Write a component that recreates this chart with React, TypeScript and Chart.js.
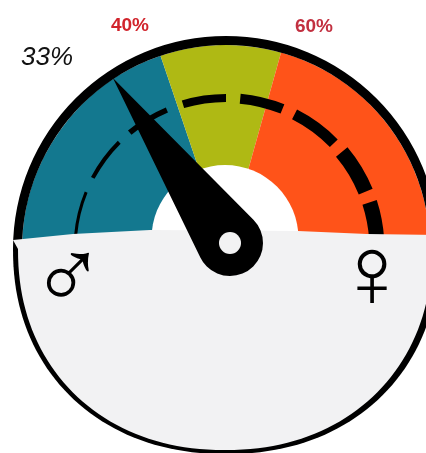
import React, { useEffect, useRef } from "react";
import { Chart, registerables } from "chart.js";

Chart.register(...registerables);

// Gauge scale: 0 at the left of the dial, 100 at the right, 200 all the way round.
const segmentLabels = ["Male", "Balanced", "Female", "Base"];
const segmentValues = [39.6, 19.1, 41.3, 100];
const segmentColors = ["#13788f", "#afb914", "#ff5319", "#f2f2f3"];
const tickLabels = ["40%", "60%"];
const needleLabel = "33%";
const needlePosition = 31.4;
const dashFrom = [3, 15.6, 28, 40.8, 53, 65, 77.8, 90];
const dashTo = [12.3, 25, 37.2, 50, 62.2, 75.3, 87.6, 98];
const dashWidths = [3, 4, 5.5, 8, 10, 11, 15, 15];
const genderSymbols = ["♂", "♀"];
const baseEdge: [number, number][] = [
  [-213, -9], [-153, -15], [-76, -19], [72, -18], [141, -15], [213, -14],
];

const gaugeAngle = (v: number) => Math.PI + (v / 100) * Math.PI;

// lower half of the dial: slightly squashed and squarish, traced right to left
const traceBowl = (ctx: CanvasRenderingContext2D, x0: number, y0: number, a: number, b: number) => {
  for (let i = 0; i <= 90; i++) {
    const t = (i / 90) * Math.PI;
    const c = Math.cos(t), s = Math.sin(t);
    const x = x0 + a * Math.sign(c) * Math.pow(Math.abs(c), 2 / 2.15);
    const y = y0 + b * Math.pow(s, 2 / 2.15);
    ctx.lineTo(x, y);
  }
};

const dialPlugin = {
  id: "dial",
  afterDatasetsDraw(chart: any) {
    const arc = chart.getDatasetMeta(0).data[0];
    const cx = arc.x, cy = arc.y, R = arc.outerRadius;
    const ctx = chart.ctx as CanvasRenderingContext2D;
    ctx.save();

    // dashed band, getting heavier to the right
    dashFrom.forEach((from, i) => {
      ctx.beginPath();
      ctx.arc(cx, cy, R - 62, gaugeAngle(from), gaugeAngle(dashTo[i]));
      ctx.lineWidth = dashWidths[i];
      ctx.strokeStyle = "#000";
      ctx.lineCap = "butt";
      ctx.stroke();
    });

    // white hub hole
    ctx.beginPath();
    ctx.arc(cx - 1, cy - 10.5, 73.5, 0, Math.PI * 2);
    ctx.fillStyle = "#ffffff";
    ctx.fill();

    // lower half: clear, then black rim
    ctx.fillStyle = "#ffffff";
    ctx.fillRect(cx - R - 2, cy, 2 * R + 4, R + 4);
    ctx.beginPath();
    ctx.moveTo(cx + R, cy);
    traceBowl(ctx, cx, cy, R, R - 8);
    ctx.closePath();
    ctx.fillStyle = "#000";
    ctx.fill();

    // pale base of the dial with its uneven upper edge
    ctx.beginPath();
    baseEdge.forEach(([x, y], i) => {
      if (i === 0) ctx.moveTo(cx + x, cy + y);
      else ctx.lineTo(cx + x, cy + y);
    });
    traceBowl(ctx, cx - 1, cy, R - 6, R - 12);
    ctx.closePath();
    ctx.fillStyle = segmentColors[3];
    ctx.fill();

    // needle
    const a = gaugeAngle(needlePosition);
    const tipX = cx + (R - 8) * Math.cos(a);
    const tipY = cy + (R - 8) * Math.sin(a);
    const hubX = cx + 4, hubY = cy - 6, hubR = 33;
    const d = Math.hypot(tipX - hubX, tipY - hubY);
    const base = Math.atan2(tipY - hubY, tipX - hubX);
    const spread = Math.acos(hubR / d);
    ctx.beginPath();
    ctx.moveTo(tipX, tipY);
    ctx.lineTo(hubX + hubR * Math.cos(base + spread), hubY + hubR * Math.sin(base + spread));
    ctx.arc(hubX, hubY, hubR, base + spread, base - spread + Math.PI * 2);
    ctx.closePath();
    ctx.fillStyle = "#000";
    ctx.fill();
    ctx.beginPath();
    ctx.arc(hubX, hubY, 11, 0, Math.PI * 2);
    ctx.fillStyle = segmentColors[3];
    ctx.fill();

    // texts
    ctx.textAlign = "center";
    ctx.textBaseline = "middle";
    ctx.fillStyle = "#d1242c";
    ctx.font = "bold 19px 'Liberation Sans'";
    ctx.fillText(tickLabels[0], cx - 96, cy - 223);
    ctx.fillStyle = "#c23040";
    ctx.fillText(tickLabels[1], cx + 88, cy - 222);
    ctx.fillStyle = "#111";
    ctx.font = "italic 26px 'Liberation Sans'";
    ctx.fillText(needleLabel, cx - 179, cy - 191);
    ctx.fillStyle = "#000";
    ctx.font = "100px 'Liberation Sans'";
    ctx.fillText(genderSymbols[0], cx - 158, cy + 32);
    ctx.font = "102px 'Liberation Sans'";
    ctx.fillText(genderSymbols[1], cx + 146, cy + 30);
    ctx.restore();
  },
};

export default function App() {
  const ref = useRef<HTMLCanvasElement>(null);
  useEffect(() => {
    document.body.style.margin = "0";
    const chart = new Chart(ref.current!, {
      type: "doughnut",
      data: {
        labels: segmentLabels,
        datasets: [
          { data: [200], backgroundColor: ["#000"], borderWidth: 0, weight: 9 },
          { data: segmentValues, backgroundColor: segmentColors, borderWidth: 0, weight: 204 },
        ],
      },
      options: {
        responsive: false,
        animation: false,
        devicePixelRatio: 1,
        rotation: -90,
        circumference: 360,
        cutout: 0,
        layout: { padding: 13 },
        plugins: { legend: { display: false }, tooltip: { enabled: false } },
      } as any,
      plugins: [dialPlugin],
    });
    return () => chart.destroy();
  }, []);
  return (
    <div style={{ position: "absolute", left: 0, top: 0, width: 426, height: 453, overflow: "hidden", background: "#fff" }}>
      <canvas ref={ref} width={452} height={498} style={{ display: "block", filter: "blur(0.6px)" }} />
    </div>
  );
}
